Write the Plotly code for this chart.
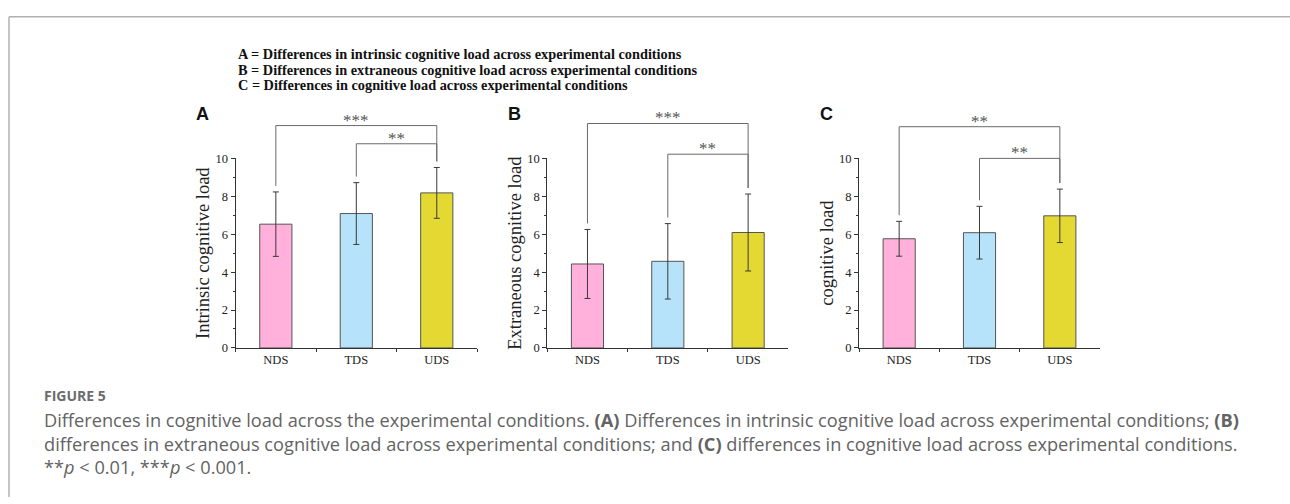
import plotly.graph_objects as go

W, H = 1290, 504

categories = ["NDS", "TDS", "UDS"]
bar_colors = ["#FFB0DB", "#B6E3FA", "#E3D932"]

panel_letters = ["A", "B", "C"]
y_titles = ["Intrinsic cognitive load", "Extraneous cognitive load", "cognitive load"]

intrinsic_mean = [6.53, 7.09, 8.18]
intrinsic_sd = [1.70, 1.63, 1.34]
extraneous_mean = [4.43, 4.57, 6.09]
extraneous_sd = [1.82, 1.99, 2.03]
cognitive_mean = [5.76, 6.08, 6.97]
cognitive_sd = [0.92, 1.39, 1.41]

# significance brackets: (left category, right category)
comparisons = [("NDS", "UDS"), ("TDS", "UDS")]
sig_labels = [["***", "**"], ["***", "**"], ["**", "**"]]
bracket_levels = [[11.73, 10.77], [11.84, 10.22], [11.67, 10.0]]

header_lines = [
    "A = Differences in intrinsic cognitive load across experimental conditions",
    "B = Differences in extraneous cognitive load across experimental conditions",
    "C = Differences in cognitive load across experimental conditions",
]

means = [intrinsic_mean, extraneous_mean, cognitive_mean]
sds = [intrinsic_sd, extraneous_sd, cognitive_sd]

YMAX = 10
x_domains = [[235.6 / W, 477 / W], [547.3 / W, 788.3 / W], [859 / W, 1100 / W]]
y_domain = [1 - 350.7 / H, 1 - 155.7 / H]
title_standoff = [1, 0, 0]

serif = "Liberation Serif, Times New Roman, serif"
sans = "Open Sans, Lato, sans-serif"

fig = go.Figure()
layout = dict(
    width=W, height=H, autosize=False,
    margin=dict(l=0, r=0, t=0, b=0),
    paper_bgcolor="white", plot_bgcolor="white",
    showlegend=False,
)
shapes = []
annotations = []
ncat = len(categories)


def xd(k):
    return (k + 0.5) / ncat


for i in range(3):
    sfx = "" if i == 0 else str(i + 1)
    xa, ya = "x" + sfx, "y" + sfx
    fig.add_trace(go.Bar(
        x=categories, y=means[i],
        width=0.4,
        marker=dict(color=bar_colors, line=dict(color="#555555", width=1)),
        error_y=dict(type="data", array=sds[i], color="#3a3a3a", thickness=1, width=3),
        xaxis=xa, yaxis=ya, cliponaxis=False,
    ))
    layout["xaxis" + sfx] = dict(
        domain=x_domains[i], anchor=ya, type="category",
        range=[-0.5, ncat - 0.5],
        showline=True, linecolor="#333333", linewidth=1,
        ticks="outside", tickson="boundaries", ticklen=3, tickcolor="#333333",
        showgrid=False, zeroline=False,
        tickfont=dict(family=serif, size=12.5, color="#222222"),
        fixedrange=True,
    )
    layout["yaxis" + sfx] = dict(
        domain=y_domain, anchor=xa, range=[0, YMAX],
        showline=True, linecolor="#333333", linewidth=1,
        showgrid=False, zeroline=False,
        tickvals=[0, 2, 4, 6, 8, 10], ticks="outside", ticklen=4, tickcolor="#333333",
        minor=dict(tickvals=[1, 3, 5, 7, 9], ticks="outside", ticklen=2, tickcolor="#333333"),
        tickfont=dict(family=serif, size=12.5, color="#222222"),
        title=dict(text=y_titles[i], font=dict(family=serif, size=18.5, color="#222222"),
                   standoff=title_standoff[i]),
        fixedrange=True,
    )
    # significance brackets (axis-domain units so they may sit above the plot area)
    tops = [m + s for m, s in zip(means[i], sds[i])]
    for j, (c0, c1) in enumerate(comparisons):
        i0, i1 = categories.index(c0), categories.index(c1)
        lvl = bracket_levels[i][j]
        lc = "#6a6a6a"
        common = dict(type="line", xref=xa + " domain", yref=ya + " domain",
                      line=dict(color=lc, width=1))
        shapes.append(dict(common, x0=xd(i0), x1=xd(i0),
                           y0=(tops[i0] + 0.32) / YMAX, y1=lvl / YMAX))
        shapes.append(dict(common, x0=xd(i0), x1=xd(i1), y0=lvl / YMAX, y1=lvl / YMAX))
        shapes.append(dict(common, x0=xd(i1), x1=xd(i1),
                           y0=(tops[i1] + 0.32) / YMAX, y1=lvl / YMAX))
        annotations.append(dict(xref=xa + " domain", yref=ya + " domain",
                                x=(xd(i0) + xd(i1)) / 2, y=lvl / YMAX,
                                text=sig_labels[i][j], showarrow=False,
                                xanchor="center", yanchor="bottom", yshift=-6,
                                font=dict(family=serif, size=17, color="#555555")))
    # panel letter
    annotations.append(dict(xref="paper", yref="paper",
                            x=x_domains[i][0] - 33 / W, y=1 - 110 / H,
                            text="<b>%s</b>" % panel_letters[i], showarrow=False,
                            xanchor="center", yanchor="middle",
                            font=dict(family="Liberation Sans, Arial, sans-serif", size=18, color="#111111")))

# header lines
for k, (txt, yp) in enumerate(zip(header_lines, [48.3, 64.3, 80.0])):
    annotations.append(dict(xref="paper", yref="paper", x=236 / W, y=1 - yp / H,
                            text="<b>%s</b>" % txt, showarrow=False,
                            xanchor="left", yanchor="middle",
                            font=dict(family=serif, size=14.3, color="#111111")))

# caption
cap_x = 42 / W
cap_col = "#636363"
annotations.append(dict(xref="paper", yref="paper", x=cap_x, y=1 - 400 / H,
                        text="<b>FIGURE 5</b>", showarrow=False, xanchor="left", yanchor="middle",
                        font=dict(family=sans, size=14, color="#6c6c6c")))
caption_lines = [
    "Differences in cognitive load across the experimental conditions. <b>(A)</b> Differences in intrinsic cognitive load across experimental conditions; <b>(B)</b>",
    "differences in extraneous cognitive load across experimental conditions; and <b>(C)</b> differences in cognitive load across experimental conditions.",
    "**<i>p</i> &lt; 0.01, ***<i>p</i> &lt; 0.001.",
]
annotations.append(dict(xref="paper", yref="paper", x=cap_x, y=1 - 449.0 / H,
                        text="<br>".join(caption_lines), showarrow=False,
                        xanchor="left", yanchor="middle", align="left",
                        font=dict(family=sans, size=18.2, color=cap_col)))

# frame border (top and left)
bcol = "#b0b0b0"
shapes.append(dict(type="line", xref="paper", yref="paper", x0=9 / W, x1=1, y0=1 - 10 / H, y1=1 - 10 / H,
                   line=dict(color=bcol, width=1.5)))
shapes.append(dict(type="line", xref="paper", yref="paper", x0=9 / W, x1=9 / W, y0=0, y1=1 - 10 / H,
                   line=dict(color=bcol, width=1.5)))

layout["shapes"] = shapes
layout["annotations"] = annotations
fig.update_layout(**layout)
fig.write_html("out.html", config={"displayModeBar": False})
